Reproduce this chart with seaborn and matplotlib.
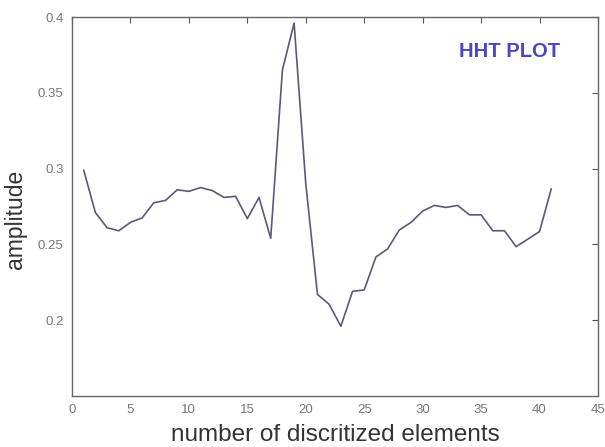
import numpy as np
import pandas as pd
import seaborn as sns
import matplotlib
matplotlib.use("Agg")
import matplotlib.pyplot as plt

elements = list(range(1, 42))
amplitude = [0.299, 0.271, 0.261, 0.259, 0.2645, 0.2675, 0.2775, 0.279, 0.286, 0.285,
             0.2875, 0.2855, 0.281, 0.2817, 0.267, 0.281, 0.254, 0.365, 0.396, 0.29,
             0.217, 0.2105, 0.196, 0.219, 0.220, 0.2417, 0.247, 0.2595, 0.2645, 0.272,
             0.2757, 0.2744, 0.2757, 0.2695, 0.2695, 0.259, 0.259, 0.2485, 0.2535, 0.2585,
             0.2867]
xticks = list(range(0, 50, 5))
yticks = [0.2, 0.25, 0.3, 0.35, 0.4]
ytick_labels = ['0.2', '0.25', '0.3', '0.35', '0.4']

df = pd.DataFrame({'element': elements, 'amplitude': amplitude})

sns.set_style('white')
plt.rcParams['font.family'] = ['Liberation Sans', 'DejaVu Sans']

fig = plt.figure(figsize=(6.05, 4.47), dpi=100)
ax = fig.add_axes([72 / 605, 1 - 396 / 447, (598 - 72) / 605, (396 - 17) / 447])
sns.lineplot(data=df, x='element', y='amplitude', ax=ax, color='#5a5a78', linewidth=1.2)

ax.set_xlim(0, 45)
ax.set_ylim(0.15, 0.4)
ax.set_xticks(xticks)
ax.set_yticks(yticks)
ax.set_yticklabels(ytick_labels)
ax.tick_params(direction='in', top=True, right=True, length=4, width=0.8,
               color='#555555', labelsize=9.5, labelcolor='#777777', pad=6)
for s in ax.spines.values():
    s.set_color('#666666')
    s.set_linewidth(1.0)

ax.set_xlabel('number of discritized elements', fontsize=17.5, color='#333333')
ax.xaxis.set_label_coords(0.5, -0.074)
ax.set_ylabel('amplitude', fontsize=16.5, color='#333333')
ax.yaxis.set_label_coords(-0.085, 0.465)
ax.text(37.4, 0.3775, 'HHT PLOT', color='#4a46c4', fontsize=14.5, fontweight='bold',
        ha='center', va='center')

fig.savefig('out.png', dpi=100)
